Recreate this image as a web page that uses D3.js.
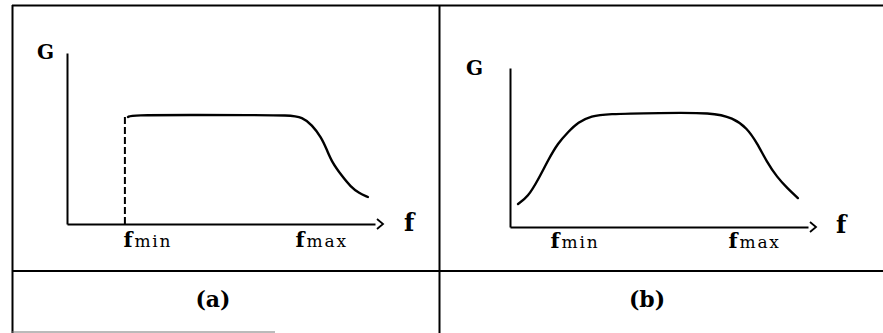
<!DOCTYPE html>
<html>
<head>
<meta charset="utf-8">
<script src="https://cdn.jsdelivr.net/npm/d3@7/dist/d3.min.js"></script>
<style>
  html, body { margin: 0; padding: 0; background: #fff; }
  svg { display: block; }
  text { font-family: "DejaVu Serif", "Liberation Serif", serif; fill: #000; }
</style>
</head>
<body>
<script>
// Gain G versus frequency f for two band-pass characteristics.
// Frequency and gain are in relative units (0–100 along each axis).

const tickLabels = ["min", "max"];          // subscripts of the f ticks
const panelLabels = ["(a)", "(b)"];

// (a) ideal lower edge at fmin, smooth roll-off above fmax
const ticksA = [18.8, 74.7];
const cutoffA = 18.8;
const cutoffGainA = 62.6;
const freqA = [19.8, 21.0, 40, 60, 72.0, 76.5, 79.5, 82.5, 84.4, 86.0, 89.0, 92.2, 94.8, 97.7];
const gainA = [62.6, 63.7, 63.7, 63.7, 63.6, 62.5, 57.9, 50.9, 43.3, 36.3, 28.7, 21.6, 18.1, 15.8];

// (b) smooth roll-on and roll-off
const ticksB = [14.1, 73.8];
const freqB = [2.7, 6.0, 9.4, 12.8, 16.1, 19.5, 22.8, 27.5, 31.9, 50.3, 68.0, 74.8, 79.5, 82.9, 86.2, 89.6, 93.0, 96.6];
const gainB = [14.5, 18.9, 29.6, 42.1, 52.8, 59.7, 66.0, 69.8, 71.1, 71.7, 72.0, 68.6, 62.3, 52.8, 40.9, 31.4, 24.5, 18.2];

const W = 883, H = 333;
const svg = d3.select("body").append("svg").attr("width", W).attr("height", H);

// Table frame
const frame = svg.append("g").attr("stroke", "#000").attr("fill", "none");
frame.append("line").attr("x1", 12).attr("y1", 5.5).attr("x2", 883).attr("y2", 5.5).attr("stroke-width", 2);
frame.append("line").attr("x1", 12.5).attr("y1", 5).attr("x2", 12.5).attr("y2", 333).attr("stroke-width", 2);
frame.append("line").attr("x1", 439.5).attr("y1", 5).attr("x2", 439.5).attr("y2", 333).attr("stroke-width", 2);
frame.append("line").attr("x1", 12).attr("y1", 271).attr("x2", 883).attr("y2", 271).attr("stroke-width", 2);
frame.append("line").attr("x1", 12).attr("y1", 332).attr("x2", 275).attr("y2", 332).attr("stroke-width", 1).attr("stroke", "#777");

const panels = [
  { ticks: ticksA, freq: freqA, gain: gainA, label: panelLabels[0],
    x0: 67, x1: 375, y0: 224, y1: 53, gX: 37, gY: 59, fX: 404, fY: 231, tickY: 247, labelX: 213 },
  { ticks: ticksB, freq: freqB, gain: gainB, label: panelLabels[1],
    x0: 510, x1: 808, y0: 227, y1: 68, gX: 466, gY: 75, fX: 836, fY: 233, tickY: 248, labelX: 647 }
];

panels.forEach((p, i) => {
  const x = d3.scaleLinear().domain([0, 100]).range([p.x0, p.x1]);
  const y = d3.scaleLinear().domain([0, 100]).range([p.y0, p.y1]);
  const g = svg.append("g");

  // Axes
  const xAxis = g.append("g")
    .attr("transform", `translate(0,${p.y0})`)
    .call(d3.axisBottom(x).tickValues(p.ticks).tickSize(0).tickSizeOuter(0).tickFormat(""));
  const yAxis = g.append("g")
    .attr("transform", `translate(${p.x0},0)`)
    .call(d3.axisLeft(y).tickValues([]).tickSizeOuter(0));
  [xAxis, yAxis].forEach(a => {
    a.select(".domain").attr("stroke", "#000").attr("stroke-width", 2);
    a.attr("font-family", null).attr("font-size", null);
  });

  // Tick labels: bold f with lighter subscript text
  xAxis.selectAll(".tick text").remove();
  xAxis.selectAll(".tick").each(function (d, k) {
    const t = d3.select(this).append("text")
      .attr("x", -2).attr("y", p.tickY - p.y0)
      .attr("text-anchor", "start");
    t.append("tspan").text("f").attr("font-weight", "bold").attr("font-size", 21);
    t.append("tspan").text(tickLabels[k]).attr("font-size", 17).attr("letter-spacing", 1.8).attr("dx", 2);
  });

  // Arrowhead at the end of the frequency axis
  g.append("path")
    .attr("d", `M${p.x1 + 2},${p.y0 - 5} L${p.x1 + 8},${p.y0} L${p.x1 + 2},${p.y0 + 5}`)
    .attr("fill", "none").attr("stroke", "#000").attr("stroke-width", 1.8);

  // Axis names
  g.append("text").attr("x", p.gX).attr("y", p.gY).text("G")
    .attr("font-weight", "bold").attr("font-size", 20);
  g.append("text").attr("x", p.fX).attr("y", p.fY).text("f")
    .attr("font-weight", "bold").attr("font-size", 24);

  // Ideal cut-on edge (dashed) in panel (a)
  if (i === 0) {
    g.append("line")
      .attr("x1", x(cutoffA)).attr("x2", x(cutoffA))
      .attr("y1", y(0)).attr("y2", y(cutoffGainA))
      .attr("stroke", "#000").attr("stroke-width", 2)
      .attr("stroke-dasharray", "7,3");
  }

  // Gain curve
  const line = d3.line()
    .x((d, k) => x(p.freq[k]))
    .y(d => y(d))
    .curve(d3.curveBasis);
  g.append("path")
    .attr("d", line(p.gain))
    .attr("fill", "none").attr("stroke", "#000").attr("stroke-width", 2.4)
    .attr("stroke-linecap", "round").attr("stroke-linejoin", "round");

  // Panel caption
  g.append("text").attr("x", p.labelX).attr("y", 307).attr("text-anchor", "middle")
    .attr("font-weight", "bold").attr("font-size", 22).text(p.label);
});
</script>
</body>
</html>
